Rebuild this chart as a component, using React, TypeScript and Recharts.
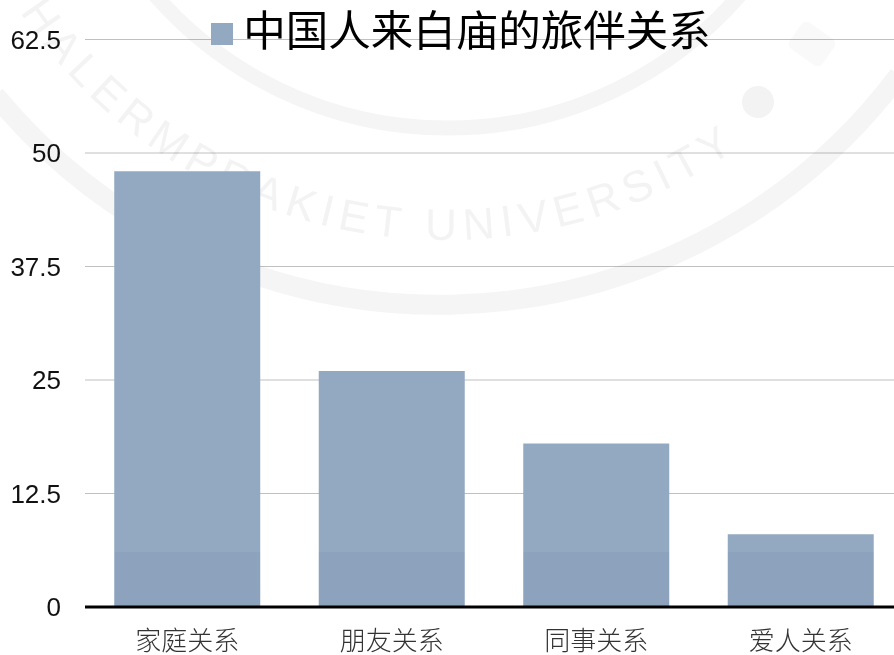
import { BarChart, Bar, XAxis, YAxis, CartesianGrid, Legend } from "recharts";

const categories = ["家庭关系", "朋友关系", "同事关系", "爱人关系"];
const values = [48, 26, 18, 8];
const yTicks = [0, 12.5, 25, 37.5, 50, 62.5];
const seriesName = "中国人来白庙的旅伴关系";

const data = categories.map((name, i) => ({ name, value: values[i] }));

// faint seal printed over the whole page, it also darkens the bars
function Watermark() {
  return (
    <g style={{ mixBlendMode: "multiply" }} pointerEvents="none">
      <path d="M -5 95 A 575 575 0 0 0 899 75" fill="none" stroke="#f5f5f5" strokeWidth={20} />
      <path d="M 155 -5 A 388 388 0 0 0 740 -5" fill="none" stroke="#f5f5f5" strokeWidth={15} />
      <circle cx={758} cy={102} r={16} fill="#f3f3f3" />
      <rect x={792} y={28} width={40} height={32} rx={6} fill="#f9f9f9" transform="rotate(35 812 44)" />
      <path id="sealArc" d="M 20 12 A 510 510 0 0 0 740 146" fill="none" />
      <text fontFamily="Liberation Sans" fontSize={44} fill="#f3f3f3">
        <textPath href="#sealArc" textLength={810} lengthAdjust="spacing">HALERMPRAKIET UNIVERSITY</textPath>
      </text>
    </g>
  );
}

export default function App() {
  return (
    <div style={{ position: "fixed", left: 0, top: 0, width: 894, height: 655, overflow: "hidden", background: "#fff" }}>
      <BarChart
        width={903}
        height={655}
        data={data}
        barCategoryGap="14.3%"
        margin={{ top: 39.5, right: 0, bottom: 0, left: 0 }}
      >
        <defs>
          <linearGradient id="barFill" gradientUnits="userSpaceOnUse" x1="0" y1="0" x2="0" y2="655">
            <stop offset="0.8427" stopColor="#93a9c2" />
            <stop offset="0.8427" stopColor="#8ca2bd" />
          </linearGradient>
        </defs>
        <CartesianGrid vertical={false} stroke="#c0c0c0" strokeWidth={1} />
        <XAxis
          dataKey="name"
          height={48}
          tickLine={false}
          axisLine={{ stroke: "#000", strokeWidth: 3 }}
          tick={{ fontSize: 26, fill: "#333", fontFamily: "Noto Sans CJK SC", fontWeight: 300 }}
          tickMargin={19}
          interval={0}
        />
        <YAxis
          width={85}
          domain={[0, 62.5]}
          ticks={yTicks}
          tickLine={false}
          axisLine={false}
          tickMargin={18}
          tick={{ fontSize: 26, fill: "#111", fontFamily: "Liberation Sans" }}
        />
        <Legend
          verticalAlign="middle"
          align="center"
          layout="horizontal"
          iconType="square"
          iconSize={22}
          wrapperStyle={{ top: -1, left: 196, width: 540, fontSize: 42.5, fontFamily: "Noto Sans CJK SC", lineHeight: "58px" }}
          formatter={(v: string) => <span style={{ color: "#000", marginLeft: 6 }}>{v}</span>}
        />
        <Bar dataKey="value" name={seriesName} fill="url(#barFill)" legendType="square" isAnimationActive={false} />
        <Watermark />
      </BarChart>
    </div>
  );
}
